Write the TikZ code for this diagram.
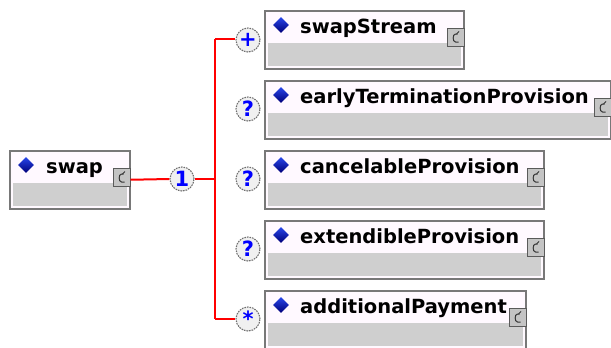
\documentclass[tikz,border=0pt]{standalone}
\usepackage{fontspec}
\setmainfont{DejaVu Sans}
\usetikzlibrary{shapes.geometric}

\definecolor{headfill}{RGB}{255,249,255}
\definecolor{bandgray}{RGB}{207,207,207}
\definecolor{boxline}{RGB}{120,120,120}
\definecolor{iconfill}{RGB}{196,196,196}
\definecolor{iconline}{RGB}{90,90,90}
\definecolor{occfill}{RGB}{240,240,240}
\definecolor{occline}{RGB}{110,110,110}
\definecolor{diaLight}{RGB}{40,70,235}
\definecolor{diaDark}{RGB}{0,0,120}

\begin{document}
\begin{tikzpicture}[
    x=1pt, y=1pt,
    elem/.style={draw=boxline, line width=1.5pt, fill=headfill, anchor=north west,
        minimum height=58pt, inner sep=0pt,
        path picture={\fill[bandgray] ([shift={(3pt,3pt)}]path picture bounding box.south west)
            rectangle ([shift={(-3pt,26pt)}]path picture bounding box.south east);}},
    elemtext/.style={anchor=base west, inner sep=0pt, font=\fontsize{19.5}{20}\selectfont\bfseries},
    dia/.style={diamond, top color=diaLight, bottom color=diaDark, minimum width=16pt,
        minimum height=16pt, inner sep=0pt},
    icon/.style={draw=iconline, fill=iconfill, line width=1pt, anchor=north east,
        minimum width=17pt, minimum height=18pt, inner sep=0pt,
        path picture={\draw[line width=1pt, black!80]
            ([shift={(3pt,-4.5pt)}]path picture bounding box.center) -- ++(-3pt,0)
            to[out=180,in=180] ++(0,8pt) -- ++(2pt,0);
            \draw[line width=0.8pt, black!80] ([shift={(1pt,3.5pt)}]path picture bounding box.center) -- ++(2.5pt,2.5pt);}},
    occ/.style={circle, draw=occline, dash pattern=on 1.6pt off 1pt, line width=1.1pt,
        fill=occfill, minimum size=24pt, inner sep=0pt, text=blue,
        font=\fontsize{21}{21}\selectfont\bfseries},
    link/.style={red, line width=2pt}
]

\useasboundingbox (0,0) rectangle (611,-348);

% Element parent
\node[elem, minimum width=120pt] (swap) at (9,-150) {};
\node[dia] (swapdia) at ([shift={(17pt,-15pt)}]swap.north west) {};
\node[elemtext] (swaplabel) at ([shift={(37pt,-23pt)}]swap.north west) {swap};
\node[icon] (swapicon) at ([yshift=-18pt]swap.north east) {};

% Elements enfants
\node[elem, minimum width=199pt] (swapStream) at (264,-10) {};
\node[dia] (streamdia) at ([shift={(17pt,-15pt)}]swapStream.north west) {};
\node[elemtext] (streamlabel) at ([shift={(36pt,-23pt)}]swapStream.north west) {swapStream};
\node[icon] (streamicon) at ([yshift=-18pt]swapStream.north east) {};

\node[elem, minimum width=346pt] (early) at (264,-80) {};
\node[dia] (earlydia) at ([shift={(17pt,-15pt)}]early.north west) {};
\node[elemtext] (earlylabel) at ([shift={(36pt,-23pt)}]early.north west) {earlyTerminationProvision};
\node[icon] (earlyicon) at ([yshift=-18pt]early.north east) {};

\node[elem, minimum width=279pt] (cancel) at (264,-150) {};
\node[dia] (canceldia) at ([shift={(17pt,-15pt)}]cancel.north west) {};
\node[elemtext] (cancellabel) at ([shift={(36pt,-23pt)}]cancel.north west) {cancelableProvision};
\node[icon] (cancelicon) at ([yshift=-18pt]cancel.north east) {};

\node[elem, minimum width=279pt] (extend) at (264,-220) {};
\node[dia] (extenddia) at ([shift={(17pt,-15pt)}]extend.north west) {};
\node[elemtext] (extendlabel) at ([shift={(36pt,-23pt)}]extend.north west) {extendibleProvision};
\node[icon] (extendicon) at ([yshift=-18pt]extend.north east) {};

\node[elem, minimum width=261pt] (payment) at (264,-290) {};
\node[dia] (paymentdia) at ([shift={(17pt,-15pt)}]payment.north west) {};
\node[elemtext] (paymentlabel) at ([shift={(36pt,-23pt)}]payment.north west) {additionalPayment};
\node[icon] (paymenticon) at ([yshift=-18pt]payment.north east) {};

% Compositeur et occurrences
\node[occ] (seq) at (182,-179) {1};
\node[occ] (occStream) at (248,-40) {+};
\node[occ] (occEarly) at (248,-109) {?};
\node[occ] (occCancel) at (248,-179) {?};
\node[occ] (occExtend) at (248,-249) {?};
\node[occ] (occPayment) at (248,-319) {*};

% Liaisons
\coordinate (forktop) at (215,-39);
\coordinate (forkbot) at (215,-319);
\draw[link] (swap.east) -- (seq.west);
\draw[link] (seq.east) -- (seq.east -| forktop);
\draw[link] (forktop) -- (forkbot);
\draw[link] (forktop) -- (forktop -| occStream.west);
\draw[link] (forkbot) -- (occPayment.west);

\end{tikzpicture}
\end{document}
